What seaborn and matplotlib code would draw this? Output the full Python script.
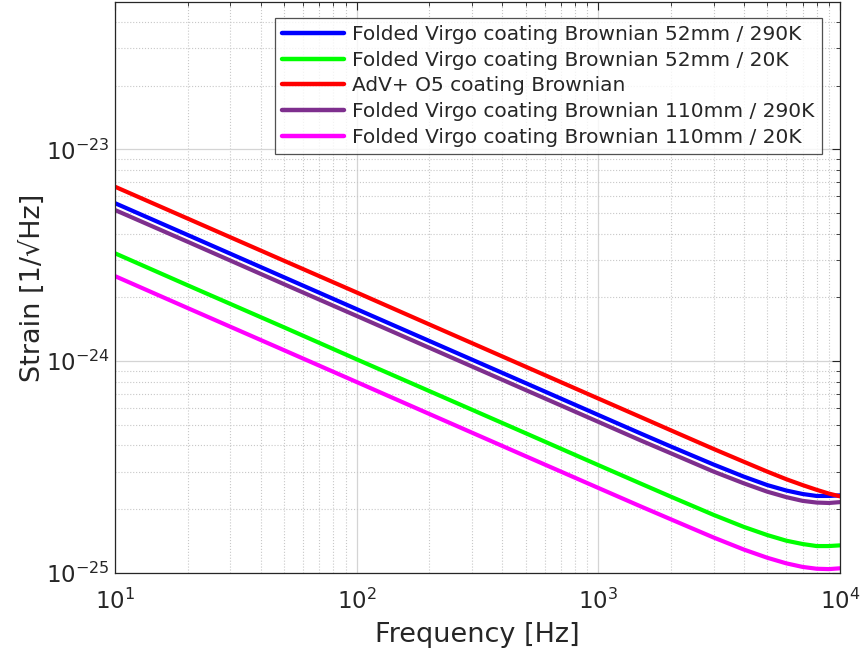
import matplotlib
matplotlib.use("Agg")
import matplotlib.pyplot as plt
import pandas as pd
import seaborn as sns
from matplotlib.ticker import LogLocator, NullFormatter

sns.set_theme(style="white", context="notebook")
plt.rcParams["font.family"] = ["DejaVu Sans"]

# frequency grid [Hz]
freq = [10, 20, 50, 100, 200, 500, 1000, 1500, 2000, 3000, 4000,
        5000, 6000, 7000, 8000, 9000, 10000]

# strain values [1/sqrt(Hz)]
folded_52_290 = [5.57e-24, 3.94e-24, 2.49e-24, 1.76e-24, 1.245e-24, 7.88e-25,
                 5.57e-25, 4.55e-25, 3.95e-25, 3.25e-25, 2.85e-25,
                 2.60e-25, 2.45e-25, 2.36e-25, 2.31e-25, 2.31e-25, 2.325e-25]
folded_52_20 = [3.23e-24, 2.28e-24, 1.445e-24, 1.02e-24, 7.22e-25, 4.57e-25,
                3.23e-25, 2.64e-25, 2.29e-25, 1.88e-25, 1.65e-25,
                1.51e-25, 1.42e-25, 1.37e-25, 1.34e-25, 1.34e-25, 1.35e-25]
advplus_o5 = [6.66e-24, 4.71e-24, 2.98e-24, 2.11e-24, 1.49e-24, 9.42e-25,
              6.66e-25, 5.44e-25, 4.71e-25, 3.85e-25, 3.35e-25,
              3.01e-25, 2.77e-25, 2.60e-25, 2.47e-25, 2.37e-25, 2.30e-25]
folded_110_290 = [5.17e-24, 3.66e-24, 2.31e-24, 1.635e-24, 1.156e-24, 7.31e-25,
                  5.17e-25, 4.22e-25, 3.67e-25, 3.01e-25, 2.65e-25,
                  2.42e-25, 2.28e-25, 2.19e-25, 2.15e-25, 2.14e-25, 2.16e-25]
folded_110_20 = [2.52e-24, 1.78e-24, 1.127e-24, 7.97e-25, 5.63e-25, 3.56e-25,
                 2.52e-25, 2.06e-25, 1.79e-25, 1.47e-25, 1.29e-25,
                 1.18e-25, 1.11e-25, 1.068e-25, 1.047e-25, 1.043e-25, 1.052e-25]

labels = [
    "Folded Virgo coating Brownian 52mm / 290K",
    "Folded Virgo coating Brownian 52mm / 20K",
    "AdV+ O5 coating Brownian",
    "Folded Virgo coating Brownian 110mm / 290K",
    "Folded Virgo coating Brownian 110mm / 20K",
]
series = [folded_52_290, folded_52_20, advplus_o5, folded_110_290, folded_110_20]
colors = ["#0000ff", "#00ff00", "#ff0000", "#7e2f8e", "#ff00ff"]

df = pd.concat(
    [pd.DataFrame({"freq": freq, "strain": s, "curve": lab}) for lab, s in zip(labels, series)],
    ignore_index=True,
)

fig = plt.figure(figsize=(8.61, 6.54), dpi=100)
ax = fig.add_axes([0.1336, 0.1239, 0.842, 0.873])

sns.lineplot(data=df, x="freq", y="strain", hue="curve", hue_order=labels,
             palette=dict(zip(labels, colors)), linewidth=3, sort=False, ax=ax)

ax.set_xscale("log")
ax.set_yscale("log")
ax.set_xlim(10, 1e4)
ax.set_ylim(1e-25, 4.96e-23)
ax.set_xticks([1e1, 1e2, 1e3, 1e4])
ax.set_yticks([1e-25, 1e-24, 1e-23])
ax.xaxis.set_minor_locator(LogLocator(base=10, subs=range(2, 10), numticks=100))
ax.yaxis.set_minor_locator(LogLocator(base=10, subs=range(2, 10), numticks=100))
ax.xaxis.set_minor_formatter(NullFormatter())
ax.yaxis.set_minor_formatter(NullFormatter())

ax.grid(True, which="major", color="#d4d4d4", linewidth=0.9, linestyle="-")
ax.grid(True, which="minor", color="#c8c8c8", linewidth=0.8, linestyle=":")
ax.set_axisbelow(True)

ax.tick_params(which="both", direction="in", top=True, right=True, colors="#262626",
               labelsize=16.5)
ax.tick_params(which="major", length=6, width=0.8)
ax.tick_params(which="minor", length=3, width=0.6)
ax.tick_params(axis="x", pad=11)
for sp in ax.spines.values():
    sp.set_color("#262626")
    sp.set_linewidth(0.9)

ax.set_xlabel("Frequency [Hz]", fontsize=19.5, color="#262626", labelpad=6)
ax.set_ylabel("Strain [1/\u221aHz]", fontsize=19.5, color="#262626", labelpad=0)

leg = ax.legend(loc="upper right", bbox_to_anchor=(0.975, 0.972), fontsize=14.5,
                frameon=True, fancybox=False, handlelength=3.1, borderaxespad=0,
                labelspacing=0.33, handletextpad=0.4, borderpad=0.35)
leg.get_frame().set_edgecolor("#262626")
leg.get_frame().set_linewidth(0.9)
for h in leg.get_lines():
    h.set_linewidth(3.2)

fig.savefig("out.png", dpi=100)
